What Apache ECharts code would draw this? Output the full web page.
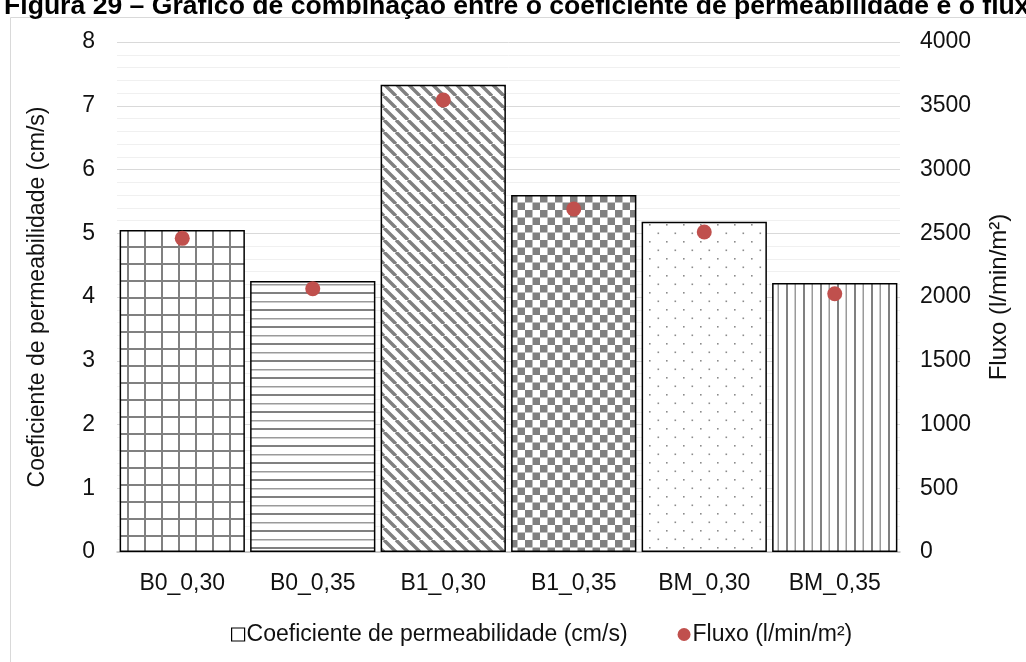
<!DOCTYPE html>
<html><head><meta charset="utf-8">
<script src="https://cdn.jsdelivr.net/npm/echarts@6/dist/echarts.min.js"></script>
<style>html,body{margin:0;padding:0;background:#fff}#c{width:1026px;height:662px}</style>
</head><body><div id="c"></div>
<script>
const categories = ['B0_0,30','B0_0,35','B1_0,30','B1_0,35','BM_0,30','BM_0,35'];
const permeabilidade = [5.05, 4.25, 7.33, 5.60, 5.18, 4.22];
const fluxo = [2460, 2065, 3545, 2690, 2510, 2025];
const leftTicks = {min:0, max:8, interval:1};
const rightTicks = {min:0, max:4000, interval:500};
const titleText = 'Figura 29 – Gráfico de combinação entre o coeficiente de permeabilidade e o fluxo';
const barName = 'Coeficiente de permeabilidade (cm/s)';
const dotName = 'Fluxo (l/min/m²)';

const G = '#808080';
function mk(w,h,draw){const c=document.createElement('canvas');c.width=w;c.height=h;const x=c.getContext('2d');x.fillStyle='#fff';x.fillRect(0,0,w,h);draw(x);return c;}
const patterns = [
  mk(17,17,x=>{x.fillStyle=G;x.fillRect(8,0,2,17);x.fillRect(0,8,17,2);}),
  mk(17,17,x=>{x.fillStyle=G;x.fillRect(0,3,17,2);x.fillStyle='#9a9a9a';x.fillRect(0,12,17,1.5);}),
  mk(12,12,x=>{x.strokeStyle=G;x.lineWidth=3.4;x.beginPath();
     for(let k=-2;k<=2;k++){x.moveTo(k*12,0);x.lineTo(k*12+12,12);}x.stroke();}),
  mk(15,15,x=>{x.fillStyle=G;x.fillRect(0,0,7.5,7.5);x.fillRect(7.5,7.5,7.5,7.5);}),
  mk(17,17,x=>{x.fillStyle='#8c8c8c';x.fillRect(3,3,1.6,1.6);x.fillRect(11.5,11.5,1.6,1.6);}),
  mk(17,17,x=>{x.fillStyle=G;x.fillRect(4,0,2,17);x.fillStyle='#9a9a9a';x.fillRect(12.5,0,1.5,17);})
];
const barData = permeabilidade.map((v,i)=>({value:v,itemStyle:{color:{image:patterns[i],repeat:'repeat'}}}));

const font = '"Liberation Sans", Arial, sans-serif';
const FS = 23;
const chart = echarts.init(document.getElementById('c'));
chart.setOption({
  animation:false,
  backgroundColor:'#fff',
  textStyle:{fontFamily:font},
  title:{text:titleText,left:-1,top:-12,textStyle:{fontFamily:font,fontSize:26.6,fontWeight:'bold',color:'#000'}},
  graphic:[{type:'rect',shape:{x:10.5,y:17.5,width:1100,height:700},style:{fill:'none',stroke:'#d9d9d9',lineWidth:1},silent:true,z:-1}],
  grid:{left:117,right:126,top:42,bottom:110,containLabel:false},
  legend:{
    top:618,left:226,itemGap:50,itemWidth:13,itemHeight:13,
    textStyle:{fontFamily:font,fontSize:FS,color:'#111',padding:[0,0,0,-3]},
    data:[
      {name:barName,icon:'rect',itemStyle:{color:'#fff',borderColor:'#000',borderWidth:1.2}},
      {name:dotName,icon:'circle',itemStyle:{color:'#c0504d'}}
    ]
  },
  xAxis:{type:'category',data:categories,
    axisLine:{lineStyle:{color:'#bfbfbf',width:1.5}},axisTick:{show:false},
    axisLabel:{fontFamily:font,fontSize:FS,color:'#111',margin:20}},
  yAxis:[
    {type:'value',min:leftTicks.min,max:leftTicks.max,interval:leftTicks.interval,
     name:barName,nameLocation:'middle',nameGap:68,nameTextStyle:{fontFamily:font,fontSize:FS,color:'#111'},
     axisLabel:{fontFamily:font,fontSize:FS,color:'#111',margin:22},
     axisLine:{show:false},axisTick:{show:false},
     splitLine:{lineStyle:{color:'#d9d9d9',width:1}},
     minorTick:{show:false,splitNumber:5},
     minorSplitLine:{show:true,lineStyle:{color:'#f0f0f0',width:1}}},
    {type:'value',min:rightTicks.min,max:rightTicks.max,interval:rightTicks.interval,position:'right',
     name:dotName,nameLocation:'middle',nameGap:87,nameRotate:90,nameTextStyle:{fontFamily:font,fontSize:24,color:'#111'},
     axisLabel:{fontFamily:font,fontSize:FS,color:'#111',margin:20,formatter:v=>String(v)},
     axisLine:{show:false},axisTick:{show:false},splitLine:{show:false}}
  ],
  series:[
    {name:barName,type:'bar',yAxisIndex:0,data:barData,barWidth:'96%',
     itemStyle:{borderColor:'#000',borderWidth:1.5}},
    {name:dotName,type:'scatter',yAxisIndex:1,data:fluxo,symbolSize:15,
     itemStyle:{color:'#c0504d',opacity:1},z:5}
  ]
});
</script></body></html>
